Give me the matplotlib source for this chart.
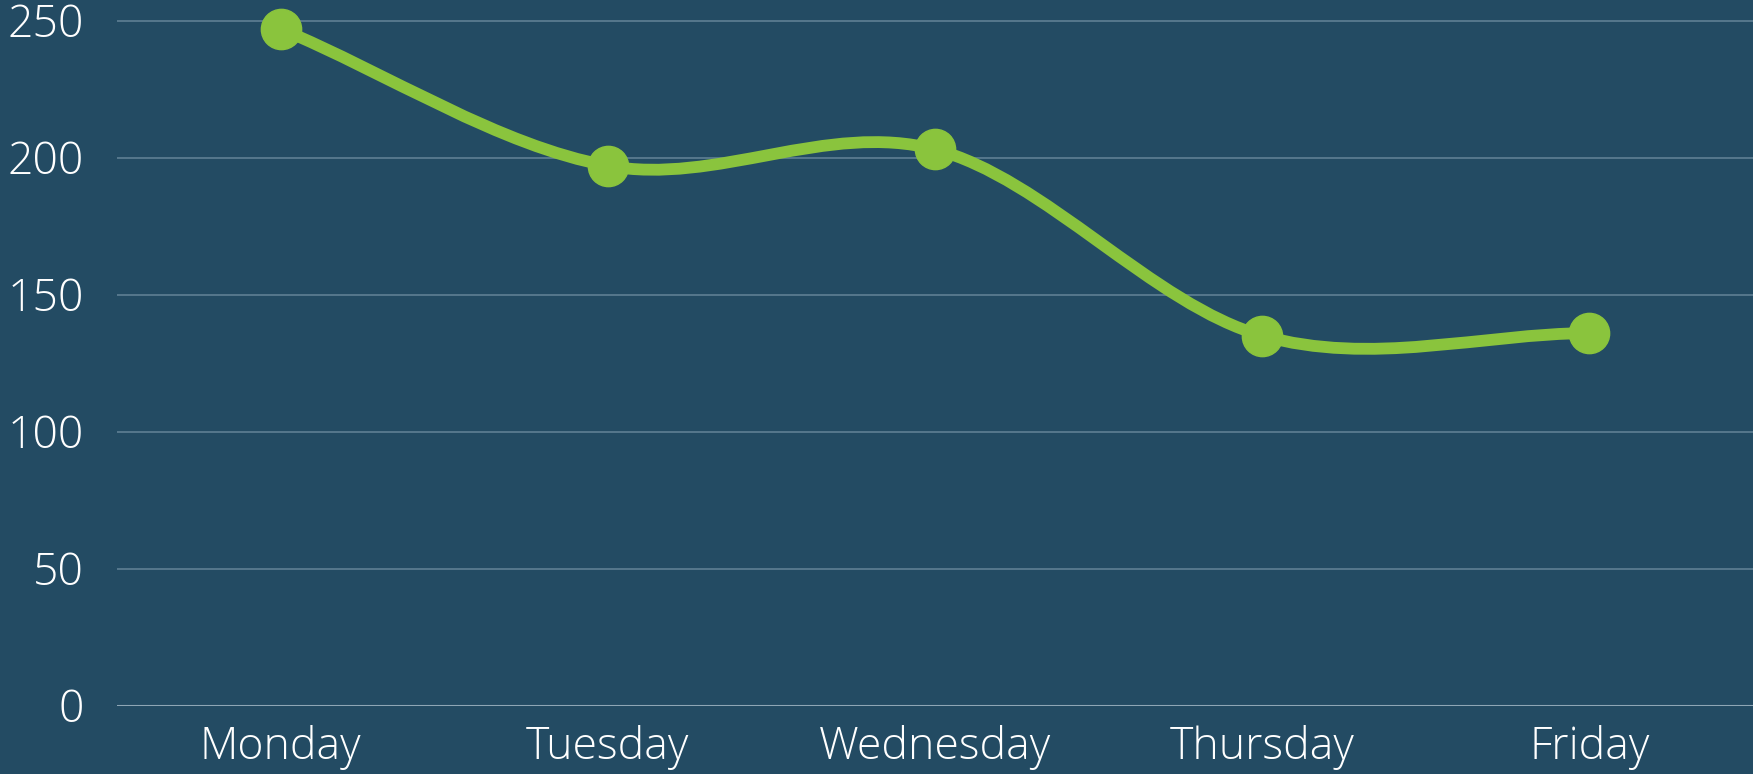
import matplotlib
matplotlib.use("Agg")
import matplotlib.pyplot as plt
from matplotlib.path import Path
from matplotlib.patches import PathPatch
import numpy as np

# Chart data
days = ["Monday", "Tuesday", "Wednesday", "Thursday", "Friday"]
values = [247, 197, 203, 135, 136]
y_ticks = [0, 50, 100, 150, 200, 250]

bg = "#234b63"
green = "#8ac43d"

plt.rcParams['font.family'] = ['Open Sans', 'DejaVu Sans']

fig = plt.figure(figsize=(17.53, 7.74), dpi=100)
fig.patch.set_facecolor(bg)
ax = fig.add_axes([117 / 1753, 68.3 / 774, 1 - 117 / 1753, 705.7 / 774])
ax.set_facecolor(bg)

xs = np.arange(len(days))
ys = np.array(values, dtype=float)

# Smooth line: cardinal (Catmull-Rom) spline drawn as cubic Bezier segments
tangents = np.zeros(len(ys))
tangents[0] = ys[1] - ys[0]
tangents[-1] = ys[-1] - ys[-2]
tangents[1:-1] = (ys[2:] - ys[:-2]) / 2
verts = [(xs[0], ys[0])]
codes = [Path.MOVETO]
for i in range(len(xs) - 1):
    verts += [(xs[i] + 1 / 3, ys[i] + tangents[i] / 3),
              (xs[i + 1] - 1 / 3, ys[i + 1] - tangents[i + 1] / 3),
              (xs[i + 1], ys[i + 1])]
    codes += [Path.CURVE4] * 3
ax.add_patch(PathPatch(Path(verts, codes), facecolor='none', edgecolor=green,
                       lw=8.5, capstyle='round', zorder=3))
ax.plot(xs, ys, 'o', color=green, markersize=29, zorder=4)

# Grid lines
for v in y_ticks[1:]:
    ax.axhline(v, color="#5a7b90", lw=1.3, zorder=1)
ax.axhline(0, color="#8ea6b5", lw=1.5, zorder=1)

ax.set_xlim(-0.5, 4.5)
ax.set_ylim(0, 257.5)
ax.set_xticks(xs)
ax.set_xticklabels(days)
ax.set_yticks(y_ticks)
ax.tick_params(axis='both', length=0, colors='white', labelsize=32)
ax.tick_params(axis='x', pad=14)
ax.tick_params(axis='y', pad=24)
for lbl in ax.get_xticklabels() + ax.get_yticklabels():
    lbl.set_fontweight('light')
for s in ax.spines.values():
    s.set_visible(False)

plt.savefig('out.png', facecolor=bg)
